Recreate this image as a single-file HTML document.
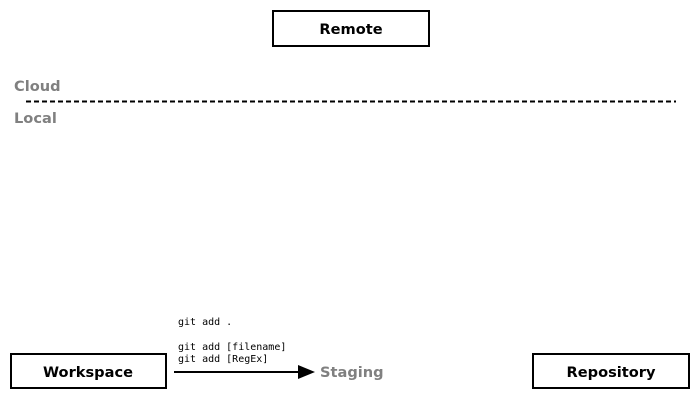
<!DOCTYPE html>
<html><head><meta charset="utf-8"><style>
body{margin:0;width:700px;height:400px;background:#fff;overflow:hidden}
svg text{font-family:"DejaVu Sans","Liberation Sans",sans-serif}
.m{font-family:'DejaVu Sans Mono','Liberation Mono',monospace}
</style></head><body>
<svg width="700" height="400" xmlns="http://www.w3.org/2000/svg">
<rect x="273" y="11" width="156" height="35" fill="#fff" stroke="#000" stroke-width="2"/>
<text x="351" y="34" font-size="14.6" font-weight="bold" text-anchor="middle">Remote</text>
<text x="14" y="91" font-size="14.6" font-weight="bold" fill="#808080">Cloud</text>
<line x1="26" y1="101.5" x2="676" y2="101.5" stroke="#000" stroke-width="2" stroke-dasharray="5,3"/>
<text x="14" y="123" font-size="14.6" font-weight="bold" fill="#808080">Local</text>
<rect x="11" y="354" width="155" height="34" fill="#fff" stroke="#000" stroke-width="2"/>
<text x="88" y="377" font-size="14.6" font-weight="bold" text-anchor="middle">Workspace</text>
<rect x="533" y="354" width="156" height="34" fill="#fff" stroke="#000" stroke-width="2"/>
<text x="611" y="377" font-size="14.6" font-weight="bold" text-anchor="middle">Repository</text>
<line x1="174" y1="372" x2="300" y2="372" stroke="#000" stroke-width="2"/>
<polygon points="298,365 315,372 298,379" fill="#000"/>
<text x="320" y="377" font-size="14.6" font-weight="bold" fill="#808080">Staging</text>
<text class="m" x="178" y="325" font-size="10">git add .</text>
<text class="m" x="178" y="350" font-size="10">git add [filename]</text>
<text class="m" x="178" y="362" font-size="10">git add [RegEx]</text>
</svg>
</body></html>
